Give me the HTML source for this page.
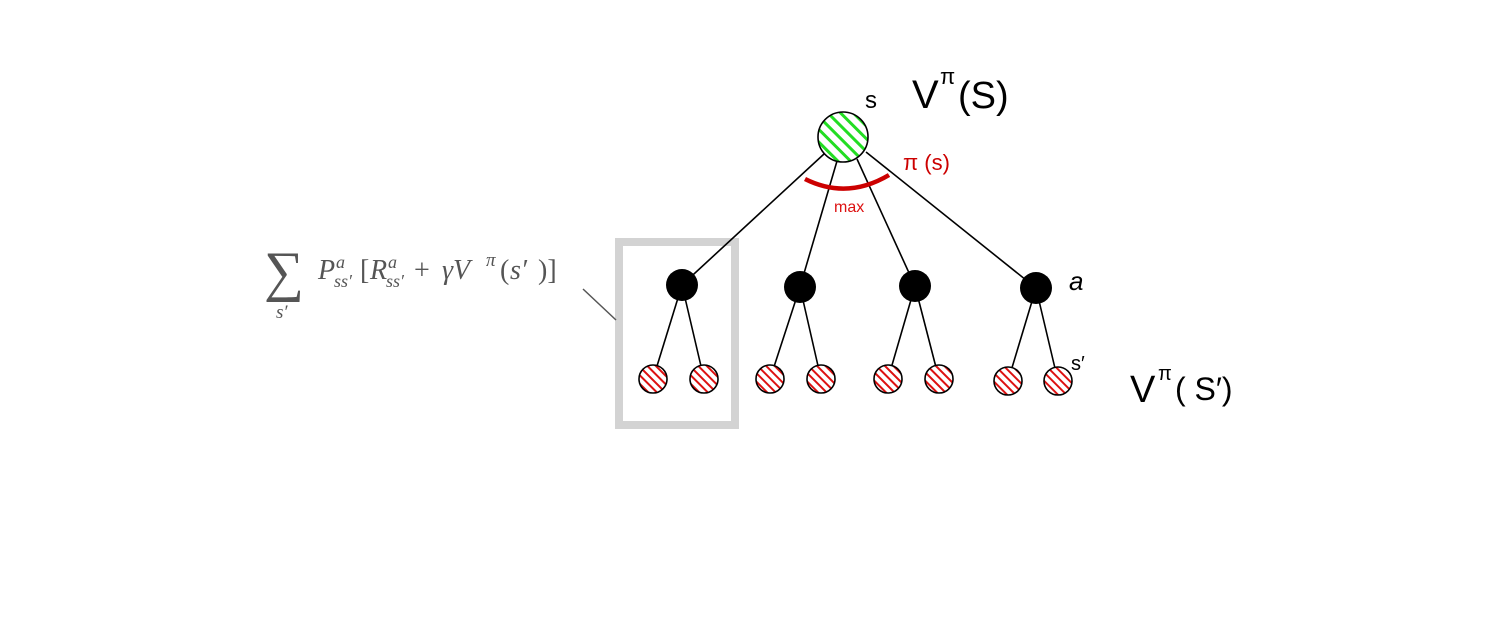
<!DOCTYPE html>
<html><head><meta charset="utf-8"><style>
html,body{margin:0;padding:0;background:#fff}
svg{display:block}
</style></head><body>
<svg width="1500" height="641" viewBox="0 0 1500 641" xmlns="http://www.w3.org/2000/svg">
<defs>
<pattern id="g" patternUnits="userSpaceOnUse" width="9" height="9" patternTransform="rotate(-45)">
<rect width="9" height="9" fill="#fff"/><rect x="0" y="0" width="3" height="9" fill="#22dd22"/>
</pattern>
<pattern id="r" patternUnits="userSpaceOnUse" width="6" height="6" patternTransform="rotate(-45)">
<rect width="6" height="6" fill="#fff"/><rect x="0" y="0" width="2" height="6" fill="#dd1111"/>
</pattern>
</defs>
<rect x="619" y="242" width="116" height="183" fill="none" stroke="#d3d3d3" stroke-width="8"/>
<line x1="583" y1="289" x2="616" y2="320" stroke="#555" stroke-width="1.5"/>
<g stroke="#000" stroke-width="1.6">
<line x1="824" y1="154" x2="682" y2="285"/>
<line x1="837" y1="161" x2="800" y2="287"/>
<line x1="857" y1="159" x2="915" y2="286"/>
<line x1="866" y1="152" x2="1036" y2="288"/>
<line x1="682" y1="285" x2="653" y2="379"/><line x1="682" y1="285" x2="704" y2="379"/>
<line x1="800" y1="287" x2="770" y2="379"/><line x1="800" y1="287" x2="821" y2="379"/>
<line x1="915" y1="286" x2="888" y2="379"/><line x1="915" y1="286" x2="939" y2="379"/>
<line x1="1036" y1="288" x2="1008" y2="381"/><line x1="1036" y1="288" x2="1058" y2="381"/>
</g>
<circle cx="843" cy="137" r="25" fill="url(#g)" stroke="#000" stroke-width="1.6"/>
<g fill="#000"><circle cx="682" cy="285" r="16"/><circle cx="800" cy="287" r="16"/><circle cx="915" cy="286" r="16"/><circle cx="1036" cy="288" r="16"/></g>
<g fill="url(#r)" stroke="#000" stroke-width="1.6">
<circle cx="653" cy="379" r="14"/><circle cx="704" cy="379" r="14"/>
<circle cx="770" cy="379" r="14"/><circle cx="821" cy="379" r="14"/>
<circle cx="888" cy="379" r="14"/><circle cx="939" cy="379" r="14"/>
<circle cx="1008" cy="381" r="14"/><circle cx="1058" cy="381" r="14"/>
</g>
<path d="M805 179 Q847 200 889 175" fill="none" stroke="#cc0000" stroke-width="4.5"/>
<text x="834" y="212" font-family="Liberation Sans,sans-serif" font-size="16" fill="#dd1111">max</text>
<text x="903" y="170" font-family="Liberation Sans,sans-serif" font-size="22" fill="#cc0000">π (s)</text>
<text x="865" y="108" font-family="Liberation Sans,sans-serif" font-size="24">s</text>
<text x="912" y="108" font-family="Liberation Sans,sans-serif" font-size="40" font-weight="300">V</text>
<text x="940" y="84" font-family="Liberation Sans,sans-serif" font-size="22">π</text>
<text x="958" y="108" font-family="Liberation Sans,sans-serif" font-size="38">(S)</text>
<text x="1069" y="290" font-family="Liberation Sans,sans-serif" font-size="26" font-style="italic">a</text>
<text x="1071" y="370" font-family="Liberation Sans,sans-serif" font-size="20">s′</text>
<text x="1130" y="402" font-family="Liberation Sans,sans-serif" font-size="38">V</text>
<text x="1158" y="380" font-family="Liberation Sans,sans-serif" font-size="20">π</text>
<text x="1175" y="400" font-family="Liberation Sans,sans-serif" font-size="32">( S′)</text>
<g font-family="Liberation Serif,serif" fill="#555" font-style="italic">
<text x="264" y="290" font-size="56" font-style="normal">∑</text>
<text x="276" y="318" font-size="19">s′</text>
<text x="318" y="279" font-size="28">P</text>
<text x="336" y="268" font-size="18">a</text>
<text x="334" y="287" font-size="18">ss′</text>
<text x="360" y="279" font-size="28" font-style="normal">[</text>
<text x="370" y="279" font-size="28">R</text>
<text x="388" y="268" font-size="18">a</text>
<text x="386" y="287" font-size="18">ss′</text>
<text x="414" y="279" font-size="28" font-style="normal">+</text>
<text x="442" y="279" font-size="28">γV</text>
<text x="486" y="266" font-size="19">π</text>
<text x="500" y="279" font-size="28" font-style="normal">(</text>
<text x="510" y="279" font-size="28">s′</text>
<text x="538" y="279" font-size="28" font-style="normal">)]</text>
</g>
</svg>
</body></html>
